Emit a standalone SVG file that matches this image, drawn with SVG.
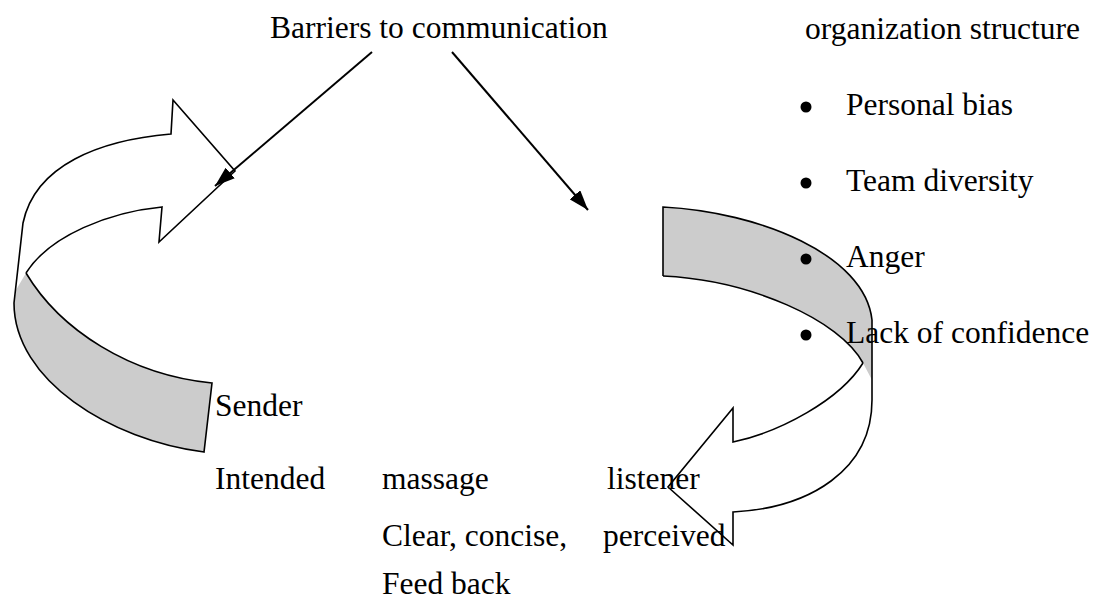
<svg xmlns="http://www.w3.org/2000/svg" width="1103" height="602" viewBox="0 0 1103 602">
<style>
  text { font-family: "Liberation Serif", "Times New Roman", serif; font-size: 31.5px; fill: #000; }
  .edge { fill: none; stroke: #000; stroke-width: 1.6; stroke-linejoin: miter; }
  .band { fill: #cccccc; stroke: none; }
  .conn { fill: none; stroke: #000; stroke-width: 2; }
  .dot { fill: #000; }
</style>
<defs>
  <marker id="ah" markerUnits="userSpaceOnUse" markerWidth="22" markerHeight="14" refX="20" refY="7" orient="auto">
    <path d="M0,0 L20,7 L0,14 Z" fill="#000"/>
  </marker>
</defs>
<rect width="1103" height="602" fill="#fff"/>

<g id="sender-arrow">
  <path class="band" d="M212,383 C130,375 60,330 26,273 L16,290 L14,303 C14,380 110,440 204,452 Z"/>
  <path class="edge" d="M14,303 L23,223 C35,165 100,140 171,134 L173,100 L235,171 L159,242 L162,207 C110,212 50,235 26,273"/>
  <path class="edge" d="M26,273 C60,330 130,375 212,383 L204,452 C110,440 14,380 14,303"/>
</g>

<g id="listener-arrow">
  <path class="band" d="M663,207 C760,212 865,255 872,320 L872,380 L863,363 C840,320 750,280 663,276 Z"/>
  <path class="edge" d="M663,276 L663,207 C760,212 865,255 872,320 L872,400 C872,470 810,508 733,512 L733,545 L668,487 L733,408 L733,442 C780,432 840,400 863,363"/>
  <path class="edge" d="M663,276 C750,280 840,320 863,363"/>
</g>

<g id="connectors">
  <line class="conn" x1="372" y1="52" x2="215" y2="186" marker-end="url(#ah)"/>
  <line class="conn" x1="452" y1="52" x2="588" y2="210" marker-end="url(#ah)"/>
</g>

<g id="barriers"><text x="270" y="38">Barriers to communication</text></g>
<g id="org-structure"><text x="805" y="39">organization structure</text></g>
<g id="bullet-list">
  <circle class="dot" cx="806" cy="107" r="5.5"/><text x="846" y="115">Personal bias</text>
  <circle class="dot" cx="806" cy="183" r="5.5"/><text x="846" y="191">Team diversity</text>
  <circle class="dot" cx="806" cy="259" r="5.5"/><text x="846" y="267">Anger</text>
  <circle class="dot" cx="806" cy="335" r="5.5"/><text x="846" y="343">Lack of confidence</text>
</g>
<g id="sender"><text x="215" y="416">Sender</text></g>
<g id="intended"><text x="215" y="489">Intended</text></g>
<g id="massage"><text x="382" y="489">massage</text></g>
<g id="listener"><text x="607" y="489">listener</text></g>
<g id="clear"><text x="382" y="546">Clear, concise,</text></g>
<g id="perceived"><text x="603" y="546">perceived</text></g>
<g id="feedback"><text x="382" y="594">Feed back</text></g>
</svg>
